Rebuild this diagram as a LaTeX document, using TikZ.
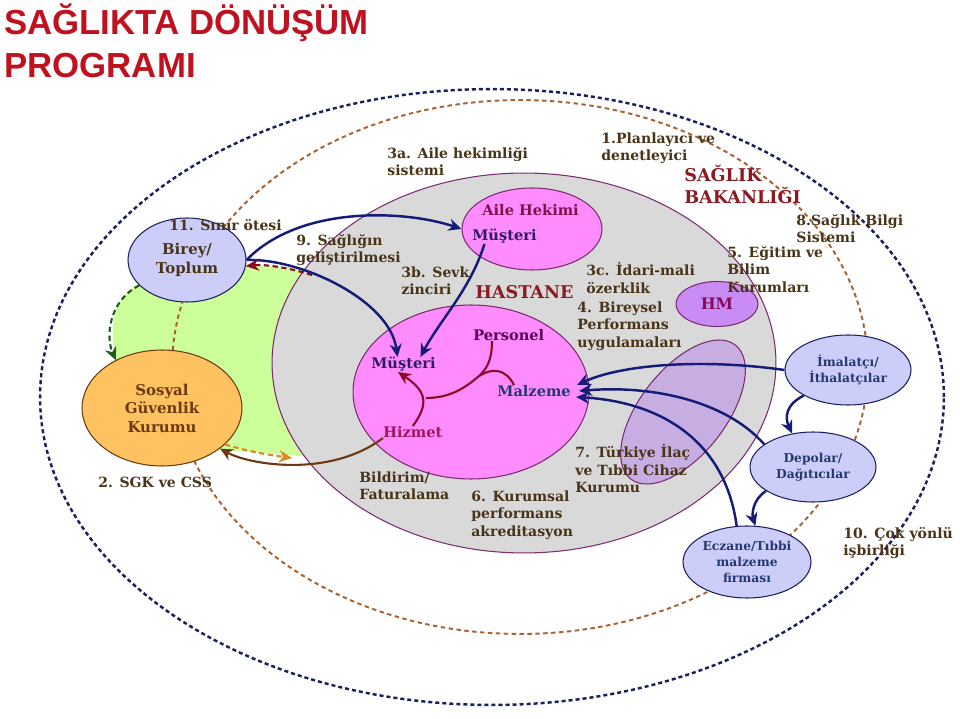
\documentclass[tikz,border=0pt]{standalone}
\usepackage{fontspec}
\setmainfont{DejaVu Serif}
\newfontfamily\titlefont{Liberation Sans}
\usetikzlibrary{arrows.meta,shapes.geometric}
\definecolor{Navy}{HTML}{1C1F5E}
\definecolor{Sienna}{HTML}{A8602E}
\definecolor{Grey}{HTML}{D9D9D9}
\definecolor{Plum}{HTML}{7B2C6E}
\definecolor{Pink}{HTML}{FF8CFF}
\definecolor{Lav}{HTML}{CDCDFA}
\definecolor{Orng}{HTML}{FFC260}
\definecolor{Lime}{HTML}{CCFF99}
\definecolor{Violet}{HTML}{B27AEE}
\definecolor{HMfill}{HTML}{C98CF5}
\definecolor{Txt}{HTML}{4A3418}
\definecolor{Wine}{HTML}{8B1A22}
\definecolor{Title}{HTML}{C0111F}
\definecolor{Arr}{HTML}{141C78}
\definecolor{Berry}{HTML}{A0155F}
\definecolor{Maroon}{HTML}{8B0A2A}
\definecolor{Bark}{HTML}{6B3A12}
\definecolor{Forest}{HTML}{1E5A1E}
\definecolor{Amber}{HTML}{D98A20}
\definecolor{NodeTxt}{HTML}{223A70}
\tikzset{
  >=Stealth,
  ring/.style={ellipse,inner sep=0pt},
  blob/.style={ring,draw,line width=.6pt},
  lab/.style={anchor=north west,inner sep=0pt,align=left,text=Txt,font=\fontsize{8}{10}\selectfont\bfseries},
  head/.style={lab,text=Wine,font=\fontsize{10}{12.5}\selectfont\bfseries},
  inlab/.style={lab,font=\fontsize{8.3}{10}\selectfont\bfseries},
  actor/.style={blob,fill=Lav,draw=Navy,text=NodeTxt,align=center,font=\fontsize{7}{9}\selectfont\bfseries},
  arrB/.style={-{Stealth[length=2.6mm,width=2.4mm]},line width=1.4pt,draw=Arr},
  arrR/.style={arrB,draw=Maroon,line width=1.2pt},
  arrBr/.style={arrB,draw=Bark,line width=1.2pt},
  dsh/.style={arrB,dash pattern=on 3pt off 2pt,line width=1.2pt}
}
\begin{document}
\begin{tikzpicture}[x=0.02cm,y=-0.02cm]
  \useasboundingbox (0,0) rectangle (960,719);
  \node[anchor=north west,inner sep=0pt,align=left,text=Title,font=\titlefont\bfseries\fontsize{19.8}{25}\selectfont] (ttl) at (4,3) {SAĞLIKTA DÖNÜŞÜM\\PROGRAMI};
  % rings
  \node[ring,draw=Navy,line width=1.4pt,dash pattern=on 2.3pt off 1.7pt,minimum width=18.08cm,minimum height=12.32cm] (out) at (492,397) {};
  \fill[Lime] (240,264) -- (330,270) -- (330,458) -- (222,450) -- (120,372) .. controls (108,340) and (108,300) .. (140,283) -- cycle;
  \node[ring,draw=Sienna,line width=1.1pt,dash pattern=on 2.5pt off 2pt,minimum width=13.92cm,minimum height=10.68cm] (mid) at (520,367) {};
  \node[blob,fill=Grey,draw=Plum,minimum width=10.08cm,minimum height=7.6cm] (sb) at (524,363) {};
  \node[blob,fill=Pink,draw=Plum,minimum width=2.8cm,minimum height=1.64cm] (ah) at (532,229) {};
  \node[blob,fill=Pink,draw=Plum,minimum width=4.72cm,minimum height=3.48cm] (hs) at (471,392) {};
  \node[blob,fill=HMfill,draw=Plum,text=Wine!40!violet,font=\fontsize{9}{10}\selectfont\bfseries,minimum width=1.64cm,minimum height=.9cm] (hm) at (717,304) {HM};
  \node[blob,fill=Violet,fill opacity=.45,draw=Plum,minimum width=3.4cm,minimum height=1.72cm,rotate=52] (ilac) at (683,412) {};
  \node[blob,fill=Lav,draw=Navy,text=Txt,align=center,font=\fontsize{8.5}{11}\selectfont\bfseries,minimum width=2.36cm,minimum height=1.68cm] (bir) at (187,260) {Birey/\\Toplum};
  \node[blob,fill=Orng,draw=Bark,text=Bark,align=center,font=\fontsize{8.5}{10.5}\selectfont\bfseries,minimum width=3.2cm,minimum height=2.32cm] (sgk) at (162,408) {Sosyal\\Güvenlik\\Kurumu};
  \node[actor,minimum width=2.52cm,minimum height=1.4cm] (imal) at (848,370) {İmalatçı/\\İthalatçılar};
  \node[actor,minimum width=2.52cm,minimum height=1.4cm] (depo) at (813,467) {Depolar/\\Dağıtıcılar};
  \node[actor,minimum width=2.56cm,minimum height=1.44cm] (ecz) at (747,562) {Eczane/Tıbbi\\malzeme\\firması};
  % labels
  \node[lab] (l3a) at (387,147) {3a. Aile hekimliği\\sistemi};
  \node[lab] (l1) at (601,132) {1.Planlayıcı ve\\denetleyici};
  \node[head] (bak) at (684,165) {SAĞLIK\\BAKANLIĞI};
  \node[lab] (l9) at (296,234) {9. Sağlığın\\geliştirilmesi};
  \node[lab] (l3b) at (401,266) {3b. Sevk\\zinciri};
  \node[lab] (l3c) at (586,262) {3c. İdari-mali\\özerklik};
  \node[lab] (l4) at (577,301) {4. Bireysel\\Performans\\uygulamaları};
  \node[lab] (l5) at (727,246) {5. Eğitim ve\\Bilim\\Kurumları};
  \node[lab] (l8) at (796,214) {8.Sağlık Bilgi\\Sistemi};
  \node[lab] (l7) at (575,444) {7. Türkiye İlaç\\ve Tıbbi Cihaz\\Kurumu};
  \node[lab] (l6) at (471,490) {6. Kurumsal\\performans\\akreditasyon};
  \node[lab] (lbf) at (359,471) {Bildirim/\\Faturalama};
  \node[lab] (l10) at (843,527) {10. Çok yönlü\\işbirliği};
  \node[lab] (l2) at (98,477) {2. SGK ve CSS};
  \node[lab] (l11) at (169,219) {11. Sınır ötesi};
  \node[head] (has) at (475,285) {HASTANE};
  \node[inlab,text=Berry!80!black] (ahk) at (482,204) {Aile Hekimi};
  \node[inlab,text=Navy!80!violet] (ahm) at (472,229) {Müşteri};
  \node[inlab,text=violet!70!black] (pers) at (473,329) {Personel};
  \node[inlab,text=Navy!80!violet] (mus) at (371,357) {Müşteri};
  \node[inlab,text=NodeTxt] (malz) at (497,385) {Malzeme};
  \node[inlab,text=Berry] (hiz) at (383,426) {Hizmet};
  \coordinate (jn) at (426,398);
  \coordinate (fork) at (479,376);
  \coordinate (rb) at (312,275);
  \coordinate (ob) at (292,458);
  % connectors
  \draw[arrB] (bir.east) .. controls (300,205) and (405,210) .. (ah.west);
  \draw[arrB] (bir.east) .. controls (300,258) and (390,300) .. ([xshift=-.12cm]mus.north);
  \draw[arrB] ([xshift=-.4cm]ahm.south) .. controls (470,290) and (440,320) .. ([xshift=.34cm]mus.north);
  \draw[arrR] (hiz.north) .. controls (428,405) and (428,392) .. ([xshift=.54cm]mus.south west);
  \draw[Maroon,line width=1.2pt] (jn) .. controls (450,398) and (465,388) .. (fork);
  \draw[Maroon,line width=1.2pt] (fork) .. controls (488,368) and (492,358) .. ([xshift=.38cm]pers.south west);
  \draw[Maroon,line width=1.2pt] (fork) .. controls (492,368) and (505,368) .. ([xshift=.34cm]malz.north west);
  \draw[arrBr] (hiz.south west) .. controls (330,478) and (250,465) .. (sgk.-35);
  \draw[dsh,draw=Amber] (sgk.-30) .. controls (250,452) and (270,455) .. (ob);
  \draw[dsh,draw=Maroon] (rb) .. controls (290,268) and (265,264) .. (bir.-6);
  \draw[dsh,draw=Forest] (bir.208) .. controls (110,300) and (105,335) .. (sgk.134);
  \draw[arrB] (imal.210) .. controls (785,405) and (785,418) .. (depo.122);
  \draw[arrB] (depo.207) .. controls (752,500) and (752,515) .. (ecz.77);
  \draw[arrB] (imal.west) .. controls (700,358) and (620,365) .. ([xshift=.12cm]malz.north east);
  \draw[arrB] (depo.155) .. controls (725,400) and (650,385) .. ([xshift=.16cm]malz.east);
  \draw[arrB] (ecz.106) .. controls (725,440) and (660,402) .. ([xshift=.1cm]malz.south east);
\end{tikzpicture}
\end{document}
